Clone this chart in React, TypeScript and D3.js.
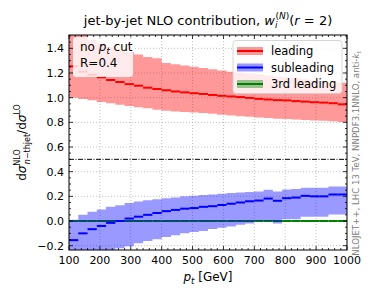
import React, { useEffect, useRef } from "react";
import * as d3 from "d3";

// bin edges in GeV (30 bins)
const binEdges = [100, 130, 160, 190, 220, 250, 280, 310, 340, 370, 400, 430, 460, 490, 520, 550, 580, 610, 640, 670, 700, 730, 760, 790, 820, 850, 880, 910, 940, 970, 1000];

const leadingCentral = [1.254, 1.21, 1.186, 1.165, 1.143, 1.127, 1.11, 1.097, 1.081, 1.07, 1.06, 1.05, 1.043, 1.036, 1.03, 1.022, 1.015, 1.01, 1.005, 0.998, 0.99, 0.985, 0.98, 0.978, 0.972, 0.968, 0.963, 0.96, 0.955, 0.946];
const leadingLow = [1.0, 0.99, 0.98, 0.965, 0.955, 0.943, 0.933, 0.922, 0.914, 0.903, 0.893, 0.888, 0.884, 0.88, 0.876, 0.87, 0.862, 0.855, 0.85, 0.845, 0.84, 0.835, 0.83, 0.828, 0.822, 0.818, 0.815, 0.812, 0.808, 0.803];
const leadingHigh = [1.6, 1.52, 1.47, 1.44, 1.41, 1.39, 1.37, 1.35, 1.33, 1.32, 1.28, 1.27, 1.26, 1.25, 1.24, 1.23, 1.22, 1.21, 1.2, 1.195, 1.19, 1.18, 1.17, 1.165, 1.16, 1.15, 1.14, 1.135, 1.125, 1.12];

const subCentral = [-0.155, -0.1, -0.066, -0.04, -0.015, 0.0, 0.02, 0.035, 0.05, 0.065, 0.08, 0.09, 0.1, 0.105, 0.115, 0.12, 0.13, 0.14, 0.15, 0.16, 0.166, 0.182, 0.164, 0.185, 0.19, 0.204, 0.2, 0.2, 0.215, 0.215];
const subLow = [-0.3, -0.28, -0.27, -0.25, -0.24, -0.22, -0.205, -0.18, -0.163, -0.147, -0.13, -0.115, -0.1, -0.09, -0.08, -0.065, -0.055, -0.045, -0.03, -0.02, 0.0, 0.0, -0.02, 0.015, 0.015, 0.035, 0.035, 0.035, 0.053, 0.053];
const subHigh = [0.01, 0.05, 0.075, 0.093, 0.115, 0.128, 0.147, 0.158, 0.168, 0.176, 0.185, 0.19, 0.2, 0.205, 0.21, 0.215, 0.222, 0.228, 0.232, 0.236, 0.239, 0.253, 0.24, 0.255, 0.26, 0.27, 0.27, 0.27, 0.28, 0.28];

const thirdCentral = [0, 0, 0, 0, 0, 0, 0, 0, 0, 0, 0, 0, 0, 0, 0, 0, 0, 0, 0, 0, 0, 0, 0, 0, 0, 0, 0, 0, 0, 0];

const xTicks = [100, 200, 300, 400, 500, 600, 700, 800, 900, 1000];
const yTicks = [-0.2, 0.0, 0.2, 0.4, 0.6, 0.8, 1.0, 1.2, 1.4];
const legendLabels = ["leading", "subleading", "3rd leading"];
const legendColors = ["#ff0000", "#0000ff", "#008000"];

const W = 374, H = 299;
const m = { left: 69, right: 347, top: 35, bottom: 250 };
const FONT = "DejaVu Sans, sans-serif";

const App = () => {
  const svgRef = useRef<SVGSVGElement>(null);

  useEffect(() => {
    const svg = d3.select(svgRef.current);
    svg.selectAll("*").remove();

    const x = d3.scaleLinear().domain([100, 1000]).range([m.left, m.right]);
    const y = d3.scaleLinear().domain([-0.235, 1.508]).range([m.bottom, m.top]);

    svg.append("rect").attr("width", W).attr("height", H).attr("fill", "white");

    svg.append("defs").append("clipPath").attr("id", "plot-clip")
      .append("rect")
      .attr("x", m.left).attr("y", m.top)
      .attr("width", m.right - m.left).attr("height", m.bottom - m.top);

    const plot = svg.append("g").attr("clip-path", "url(#plot-clip)");

    // grid
    plot.selectAll(".gx").data(xTicks).enter().append("line")
      .attr("x1", d => x(d)).attr("x2", d => x(d))
      .attr("y1", m.top).attr("y2", m.bottom)
      .attr("stroke", "#b0b0b0").attr("stroke-width", 0.8).attr("stroke-dasharray", "1,2");
    plot.selectAll(".gy").data(yTicks).enter().append("line")
      .attr("y1", d => y(d)).attr("y2", d => y(d))
      .attr("x1", m.left).attr("x2", m.right)
      .attr("stroke", "#b0b0b0").attr("stroke-width", 0.8).attr("stroke-dasharray", "1,2");

    const binned = (vals: number[]) => binEdges.map((e, i) => ({ e, v: vals[Math.min(i, vals.length - 1)] }));
    const band = (lo: number[], hi: number[]) => {
      const l = binned(lo), h = binned(hi);
      return d3.area<{ e: number; v: number; h: number }>()
        .x(d => x(d.e)).y0(d => y(d.v)).y1(d => y(d.h))
        .curve(d3.curveStepAfter)(l.map((d, i) => ({ e: d.e, v: d.v, h: h[i].v })));
    };
    const segs = (g: d3.Selection<SVGGElement, unknown, null, undefined>, vals: number[], color: string) => {
      g.selectAll("line.c").data(vals).enter().append("line")
        .attr("x1", (d, i) => x(binEdges[i])).attr("x2", (d, i) => x(binEdges[i + 1]))
        .attr("y1", d => y(d)).attr("y2", d => y(d))
        .attr("stroke", color).attr("stroke-width", 2);
    };

    // 3rd leading
    segs(plot.append("g"), thirdCentral, "#008000");

    // leading
    plot.append("path").attr("d", band(leadingLow, leadingHigh)!)
      .attr("fill", "#ff0000").attr("fill-opacity", 0.4);
    segs(plot.append("g"), leadingCentral, "#ff0000");

    // subleading
    plot.append("path").attr("d", band(subLow, subHigh)!)
      .attr("fill", "#0000ff").attr("fill-opacity", 0.4);
    segs(plot.append("g"), subCentral, "#0000ff");

    // reference line at 0.5
    plot.append("line")
      .attr("x1", m.left).attr("x2", m.right)
      .attr("y1", y(0.5)).attr("y2", y(0.5))
      .attr("stroke", "black").attr("stroke-width", 1)
      .attr("stroke-dasharray", "5,1.5,1,1.5");

    // ticks
    const ticks = svg.append("g").attr("stroke", "black");
    const xMinor = d3.range(100, 1001, 20).filter(v => v % 100 !== 0);
    const yMinor = d3.range(-0.2, 1.51, 0.05).filter(v => Math.abs(Math.round(v * 100) % 20) > 1);
    const addX = (vals: number[], len: number) => vals.forEach(v => {
      ticks.append("line").attr("x1", x(v)).attr("x2", x(v)).attr("y1", m.bottom).attr("y2", m.bottom - len).attr("stroke-width", 0.8);
      ticks.append("line").attr("x1", x(v)).attr("x2", x(v)).attr("y1", m.top).attr("y2", m.top + len).attr("stroke-width", 0.8);
    });
    const addY = (vals: number[], len: number) => vals.forEach(v => {
      ticks.append("line").attr("y1", y(v)).attr("y2", y(v)).attr("x1", m.left).attr("x2", m.left + len).attr("stroke-width", 0.8);
      ticks.append("line").attr("y1", y(v)).attr("y2", y(v)).attr("x1", m.right).attr("x2", m.right - len).attr("stroke-width", 0.8);
    });
    addX(xTicks, 4); addX(xMinor, 2);
    addY(yTicks, 4); addY(yMinor, 2);

    // frame
    svg.append("rect")
      .attr("x", m.left).attr("y", m.top)
      .attr("width", m.right - m.left).attr("height", m.bottom - m.top)
      .attr("fill", "none").attr("stroke", "black").attr("stroke-width", 1);

    // tick labels
    svg.selectAll(".xl").data(xTicks).enter().append("text")
      .attr("x", d => x(d)).attr("y", m.bottom + 14)
      .attr("text-anchor", "middle").attr("font-family", FONT).attr("font-size", 11)
      .text(d => d);
    svg.selectAll(".yl").data(yTicks).enter().append("text")
      .attr("x", m.left - 5).attr("y", d => y(d)).attr("dy", "0.35em")
      .attr("text-anchor", "end").attr("font-family", FONT).attr("font-size", 11)
      .text(d => d3.format(".1f")(d).replace("-", "\u2212"));

    // text box
    svg.append("rect").attr("x", 73).attr("y", 37).attr("width", 60).attr("height", 40)
      .attr("rx", 3).attr("fill", "white").attr("fill-opacity", 0.8);
    const t1 = svg.append("text").attr("x", 80).attr("y", 51).attr("font-family", FONT).attr("font-size", 12);
    t1.append("tspan").text("no ");
    t1.append("tspan").attr("font-style", "italic").text("p");
    t1.append("tspan").attr("font-style", "italic").attr("font-size", 8.5).attr("dy", 3).text("t");
    t1.append("tspan").attr("dy", -3).text(" cut");
    svg.append("text").attr("x", 80).attr("y", 67).attr("font-family", FONT).attr("font-size", 12).text("R=0.4");

    // legend
    const lg = svg.append("g");
    lg.append("rect").attr("x", 233).attr("y", 40.5).attr("width", 109).attr("height", 53)
      .attr("rx", 3).attr("fill", "white").attr("fill-opacity", 0.8)
      .attr("stroke", "#cccccc").attr("stroke-width", 0.8);
    legendLabels.forEach((lab, i) => {
      const cy = 51 + i * 16.5;
      lg.append("rect").attr("x", 237).attr("y", cy - 4).attr("width", 26).attr("height", 8)
        .attr("fill", legendColors[i]).attr("fill-opacity", 0.4);
      lg.append("line").attr("x1", 237).attr("x2", 263).attr("y1", cy).attr("y2", cy)
        .attr("stroke", legendColors[i]).attr("stroke-width", 2);
      lg.append("text").attr("x", 271).attr("y", cy).attr("dy", "0.35em")
        .attr("font-family", FONT).attr("font-size", 11.5).text(lab);
    });

    // title
    const tt = svg.append("text").attr("x", (m.left + m.right) / 2).attr("y", 25)
      .attr("text-anchor", "middle").attr("font-family", FONT).attr("font-size", 13);
    tt.append("tspan").text("jet-by-jet NLO contribution, ");
    tt.append("tspan").attr("font-style", "italic").text("w");
    tt.append("tspan").attr("font-style", "italic").attr("font-size", 9).attr("dy", 3).text("i");
    tt.append("tspan").attr("font-size", 9).attr("dy", -9).attr("dx", -2).text("(");
    tt.append("tspan").attr("font-size", 9).attr("font-style", "italic").text("N");
    tt.append("tspan").attr("font-size", 9).text(")");
    tt.append("tspan").attr("dy", 6).text("(");
    tt.append("tspan").attr("font-style", "italic").text("r");
    tt.append("tspan").text(" = 2)");

    // x label
    const xl = svg.append("text").attr("x", (m.left + m.right) / 2).attr("y", 281)
      .attr("text-anchor", "middle").attr("font-family", FONT).attr("font-size", 12);
    xl.append("tspan").attr("font-style", "italic").text("p");
    xl.append("tspan").attr("font-style", "italic").attr("font-size", 8.5).attr("dy", 3).text("t");
    xl.append("tspan").attr("dy", -3).text(" [GeV]");

    // y label
    const yl = svg.append("text").attr("transform", `translate(26,${(m.top + m.bottom) / 2}) rotate(-90)`)
      .attr("text-anchor", "middle").attr("font-family", FONT).attr("font-size", 12);
    yl.append("tspan").text("d");
    yl.append("tspan").attr("font-style", "italic").text("σ");
    yl.append("tspan").attr("font-size", 8).attr("dy", -6).text("NLO");
    yl.append("tspan").attr("font-size", 8).attr("font-style", "italic").attr("dy", 10).attr("dx", -15).text("n");
    yl.append("tspan").attr("font-size", 8).text("\u2212thjet");
    yl.append("tspan").attr("dy", -4).text("/d");
    yl.append("tspan").attr("font-style", "italic").text("σ");
    yl.append("tspan").attr("font-size", 8).attr("dy", -6).text("LO");

    // side note
    const sn = svg.append("text").attr("transform", `translate(359,${(m.top + m.bottom) / 2 + 11}) rotate(-90)`)
      .attr("text-anchor", "middle").attr("font-family", FONT).attr("font-size", 8.6).attr("fill", "#808080");
    sn.append("tspan").text("NLOJET++, LHC 13 TeV, NNPDF3.1NNLO, anti-");
    sn.append("tspan").attr("font-style", "italic").text("k");
    sn.append("tspan").attr("font-style", "italic").attr("font-size", 6).attr("dy", 2).text("t");
  }, []);

  return (
    <div style={{ position: "absolute", left: 0, top: 0, width: W, height: H }}>
      <svg ref={svgRef} width={W} height={H}></svg>
    </div>
  );
};

export default App;
